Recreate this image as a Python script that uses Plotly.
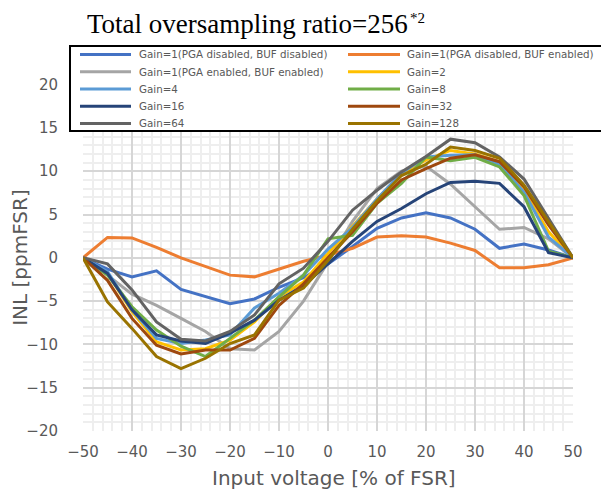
import plotly.graph_objects as go

x_pct = [-50, -45, -40, -35, -30, -25, -20, -15, -10, -5, 0, 5, 10, 15, 20, 25, 30, 35, 40, 45, 50]

series_names = [
    "Gain=1(PGA disabled, BUF disabled)",
    "Gain=1(PGA disabled, BUF enabled)",
    "Gain=1(PGA enabled, BUF enabled)",
    "Gain=2",
    "Gain=4",
    "Gain=8",
    "Gain=16",
    "Gain=32",
    "Gain=64",
    "Gain=128",
]

g1_pga_off_buf_off = [0, -1.3, -2.2, -1.5, -3.65, -4.5, -5.3, -4.75, -3.4, -2.3, -0.7, 1.3, 3.4, 4.6, 5.2, 4.6, 3.3, 1.1, 1.6, 0.9, 0]
g1_pga_off_buf_on = [0, 2.35, 2.3, 1.2, 0.0, -1.0, -2.0, -2.2, -1.3, -0.4, 0.3, 1.1, 2.4, 2.55, 2.4, 1.7, 0.85, -1.15, -1.15, -0.8, 0]
g1_pga_on_buf_on = [0, -2.0, -4.2, -5.5, -7.0, -8.5, -10.5, -10.65, -8.5, -5.0, -0.5, 4.2, 8.0, 10.0, 10.6, 8.5, 5.9, 3.3, 3.5, 2.2, 0]
gain2 = [0, -1.8, -6.2, -9.7, -10.65, -10.5, -9.5, -7.4, -4.5, -2.8, 0.5, 3.6, 6.8, 9.7, 11.3, 12.4, 12.0, 11.1, 7.8, 3.0, 0]
gain4 = [0, -1.6, -6.0, -9.3, -9.9, -9.5, -8.9, -5.8, -4.1, -2.0, 1.0, 3.5, 6.8, 9.8, 11.65, 11.85, 11.9, 10.8, 7.6, 2.4, 0]
gain8 = [0, -2.0, -5.65, -8.35, -10.2, -11.4, -9.3, -7.2, -4.5, -2.0, 2.2, 2.6, 6.3, 8.6, 11.65, 11.2, 11.6, 10.5, 7.2, 0.77, 0]
gain16 = [0, -1.8, -6.0, -8.9, -9.6, -9.9, -8.7, -7.2, -4.9, -3.2, -0.7, 1.9, 4.2, 5.7, 7.4, 8.7, 8.85, 8.6, 5.9, 0.6, 0]
gain32 = [0, -2.6, -7.0, -10.1, -11.1, -10.65, -10.65, -9.3, -5.5, -3.0, 0.0, 3.0, 6.3, 9.0, 10.3, 11.5, 11.9, 11.1, 8.2, 3.8, 0]
gain64 = [0, -0.7, -3.7, -7.4, -9.4, -9.6, -8.5, -6.6, -3.0, -1.2, 1.9, 5.5, 7.8, 9.9, 11.7, 13.7, 13.3, 11.65, 9.1, 4.6, 0]
gain128 = [0, -5.1, -8.15, -11.4, -12.8, -11.6, -9.9, -8.9, -4.9, -3.5, -0.3, 3.3, 6.6, 9.5, 10.8, 12.8, 12.4, 11.5, 8.4, 4.15, 0]

all_series = [g1_pga_off_buf_off, g1_pga_off_buf_on, g1_pga_on_buf_on, gain2, gain4,
              gain8, gain16, gain32, gain64, gain128]

colors = ["#4472C4", "#ED7D31", "#A5A5A5", "#FFC000", "#5B9BD5",
          "#70AD47", "#264478", "#9E480E", "#636363", "#997300"]

y_ticks = [-20, -15, -10, -5, 0, 5, 10, 15, 20]
x_ticks = [-50, -40, -30, -20, -10, 0, 10, 20, 30, 40, 50]

# the page body adds an 8 px offset; work in window pixels and subtract it
OFF = 8
W, H = 609 - OFF, 494 - OFF
PL, PR, PT, PB = 83, 573, 50, 431  # plot area in window pixels
ML, MR, MT, MB = PL - OFF, W - (PR - OFF), PT - OFF, H - (PB - OFF)
PW, PH = W - ML - MR, H - MT - MB


def px(xw):
    return (xw - OFF - ML) / PW


def py(yw):
    return (H - MB - (yw - OFF)) / PH


fig = go.Figure()
for name, vals, col in zip(series_names, all_series, colors):
    fig.add_trace(go.Scatter(x=x_pct, y=vals, mode="lines", name=name,
                             line=dict(color=col, width=3), showlegend=False))

# two-column legend box drawn over the top of the plot, as in the reference
shapes = [dict(type="rect", xref="paper", yref="paper",
               x0=px(70), x1=px(605), y0=py(131), y1=py(46),
               fillcolor="white", line=dict(color="black", width=2), layer="above")]
annotations = []
row_y = [54.5, 71.7, 89.0, 106.2, 123.4]
col_line = [(80, 131), (348, 400)]
col_text = [137, 405]
for i, (name, col) in enumerate(zip(series_names, colors)):
    r, c = divmod(i, 2)
    yy = py(row_y[r])
    shapes.append(dict(type="line", xref="paper", yref="paper",
                       x0=px(col_line[c][0]), x1=px(col_line[c][1]), y0=yy, y1=yy,
                       line=dict(color=col, width=3), layer="above"))
    annotations.append(dict(text=name, xref="paper", yref="paper", x=px(col_text[c]), y=yy,
                            xanchor="left", yanchor="middle", showarrow=False,
                            font=dict(family="DejaVu Sans", size=10.3, color="#595959")))

serif = "Liberation Serif, Times New Roman, serif"
annotations += [
    dict(text="Total oversampling ratio=256", xref="paper", yref="paper",
         x=px(85), y=py(23.5), xanchor="left", yanchor="middle", showarrow=False,
         font=dict(family=serif, size=27, color="black")),
    dict(text="*2", xref="paper", yref="paper",
         x=px(408), y=py(18.5), xanchor="left", yanchor="middle", showarrow=False,
         font=dict(family=serif, size=15, color="black")),
    dict(text="Input voltage [% of FSR]", xref="paper", yref="paper", x=px(334), y=py(478),
         xanchor="center", yanchor="middle", showarrow=False,
         font=dict(size=20, color="#595959")),
    dict(text="INL [ppmFSR]", xref="paper", yref="y", x=0, y=0, xshift=-(PL - 20),
         xanchor="center", yanchor="middle", textangle=-90, showarrow=False,
         font=dict(size=20, color="#595959")),
]

fig.update_layout(
    width=W, height=H,
    margin=dict(l=ML, r=MR, t=MT, b=MB, autoexpand=False),
    paper_bgcolor="white", plot_bgcolor="white",
    font=dict(family="DejaVu Sans", color="#595959"),
    showlegend=False,
    xaxis=dict(range=[-50, 50], tickvals=x_ticks, showgrid=True, gridcolor="#D6D6D6", gridwidth=1.5,
               zeroline=False, showline=False, ticks="", ticklabelstandoff=10, automargin=False,
               tickfont=dict(size=15, color="#595959"),
               minor=dict(dtick=2, showgrid=True, gridcolor="#EEEEEE", gridwidth=1.5)),
    yaxis=dict(range=[-20, 24], tickvals=y_ticks, showgrid=True, gridcolor="#D6D6D6", gridwidth=1.5,
               zeroline=False, showline=False, ticks="", ticklabelstandoff=24, automargin=False,
               tickfont=dict(size=15, color="#595959"),
               minor=dict(dtick=1, showgrid=True, gridcolor="#EEEEEE", gridwidth=1.5)),
    shapes=shapes,
    annotations=annotations,
)

fig.write_html("out.html")
